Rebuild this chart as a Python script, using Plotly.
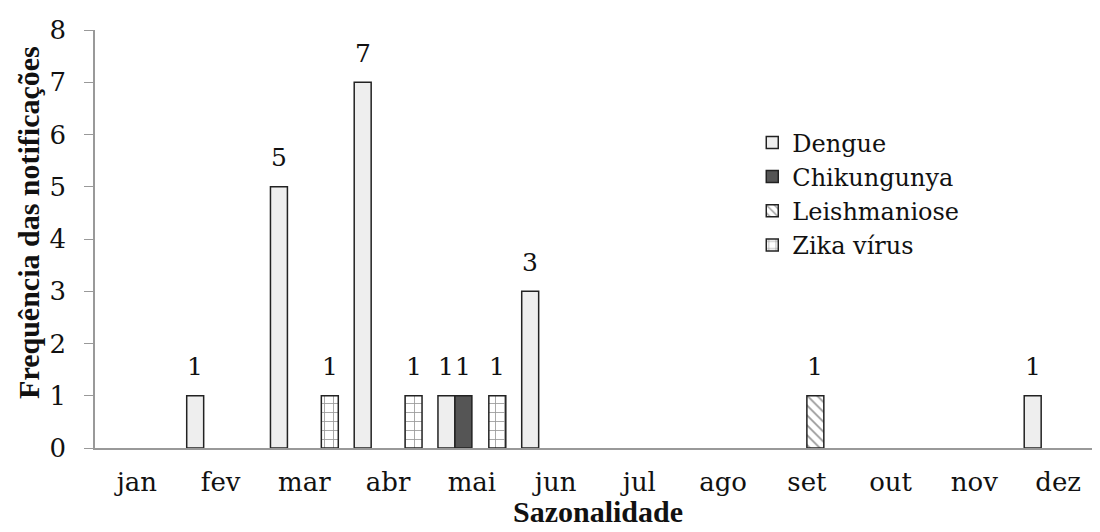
import plotly.graph_objects as go

months = ["jan", "fev", "mar", "abr", "mai", "jun", "jul", "ago", "set", "out", "nov", "dez"]
dengue = [0, 1, 5, 7, 1, 3, 0, 0, 0, 0, 0, 1]
chikungunya = [0, 0, 0, 0, 1, 0, 0, 0, 0, 0, 0, 0]
leishmaniose = [0, 0, 0, 0, 0, 0, 0, 0, 1, 0, 0, 0]
zika = [0, 0, 1, 1, 1, 0, 0, 0, 0, 0, 0, 0]

FONT = "DejaVu Serif, Liberation Serif, serif"
BFONT = "Liberation Serif, Times New Roman, serif"
BARGAP = 0.19

def nz(vals):
    return [v if v else None for v in vals]

series = [
    ("Dengue", dengue, dict(color="#eeeeee", line=dict(color="#222222", width=1.5))),
    ("Chikungunya", chikungunya, dict(color="#555555", line=dict(color="#222222", width=1.5))),
    ("Leishmaniose", leishmaniose, dict(color="#ffffff", line=dict(color="#222222", width=1.5),
                                         pattern=dict(shape="\\", fgcolor="#333333", bgcolor="#ffffff", size=7, solidity=0.25))),
    ("Zika vírus", zika, dict(color="#ffffff", line=dict(color="#222222", width=1.5),
                              pattern=dict(shape="+", fgcolor="#333333", bgcolor="#ffffff", size=9, solidity=0.18))),
]

fig = go.Figure()
nser = len(series)
slot = (1 - BARGAP) / nser
for si, (name, vals, marker) in enumerate(series):
    fig.add_trace(go.Bar(x=months, y=nz(vals), name=name, marker=marker))
    for mi, v in enumerate(vals):
        if v:
            fig.add_annotation(
                x=mi + (si - (nser - 1) / 2) * slot, y=v, xref="x", yref="y",
                text=str(v), showarrow=False, yanchor="middle", yshift=29,
                font=dict(family=FONT, size=25, color="#111111"),
            )

fig.add_annotation(
    text="<b>Frequência das notificações</b>", textangle=-90, showarrow=False,
    xref="paper", yref="paper", x=-0.066, y=0.54, xanchor="center", yanchor="middle",
    font=dict(family=BFONT, size=30, color="#111111"),
)
fig.add_annotation(
    text="<b>Sazonalidade</b>", showarrow=False,
    xref="paper", yref="paper", x=0.5, y=-0.151, xanchor="center", yanchor="middle",
    font=dict(family=BFONT, size=30, color="#111111"),
)

fig.update_layout(
    width=1100, height=532,
    margin=dict(l=87, r=8, t=22, b=92, autoexpand=False),
    paper_bgcolor="white", plot_bgcolor="white",
    barmode="group", bargap=BARGAP, bargroupgap=0,
    font=dict(family=FONT, size=25, color="#111111"),
    showlegend=True,
    legend=dict(x=0.654, y=0.784, xanchor="left", yanchor="top",
                font=dict(family=FONT, size=24, color="#111111"),
                bgcolor="rgba(0,0,0,0)", tracegroupgap=0, itemwidth=30),
    xaxis=dict(showline=True, linecolor="#999999", linewidth=1.5, ticks="", automargin=False,
               tickfont=dict(family=FONT, size=26), showgrid=False, ticklabelstandoff=10),
    yaxis=dict(range=[0, 8], dtick=1, showline=True, linecolor="#999999", linewidth=1.5, automargin=False,
               ticks="outside", ticklen=9, tickcolor="#999999", showgrid=False, zeroline=False,
               tickfont=dict(family=FONT, size=26), ticklabelstandoff=13),
)

fig.write_html("out.html")
